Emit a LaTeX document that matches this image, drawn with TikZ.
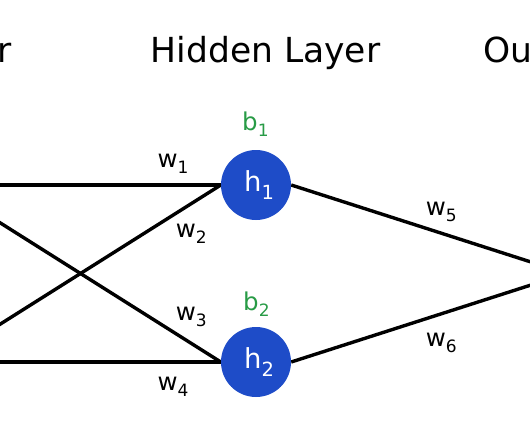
\documentclass[tikz,border=0pt]{standalone}
\usepackage{fontspec}
\setmainfont{DejaVu Sans}
\usetikzlibrary{backgrounds}
\definecolor{nodeblue}{RGB}{30,76,200}
\definecolor{biasgreen}{RGB}{40,155,70}
\newcommand\lsub[1]{\raisebox{-6pt}{\fontsize{17pt}{17pt}\selectfont #1}}
\newcommand\hsub[1]{\raisebox{-7.5pt}{\fontsize{19.5pt}{19.5pt}\selectfont #1}}
\tikzset{
  neuron/.style={circle, fill=nodeblue, minimum size=70pt, inner sep=0pt,
    text=white, font=\fontsize{27.5pt}{28pt}\selectfont},
  ghost/.style={circle, minimum size=70pt, inner sep=0pt},
  conn/.style={line width=3.4pt, black},
  wlabel/.style={anchor=base west, inner sep=0pt, font=\fontsize{24.5pt}{26pt}\selectfont},
  blabel/.style={anchor=base west, inner sep=0pt, text=biasgreen, font=\fontsize{24.5pt}{26pt}\selectfont},
  title/.style={inner sep=0pt, font=\fontsize{34.5pt}{36pt}\selectfont}
}
\begin{document}
\begin{tikzpicture}[x=1pt,y=-1pt]
\useasboundingbox (0,0) rectangle (530,442);
\clip (0,0) rectangle (530,442);
% titles
\node[title, anchor=base east] (tin) at (11.5,62) {Input Layer};
\node[title, anchor=base] (thid) at (265.5,62) {Hidden Layer};
\node[title, anchor=base west] (tout) at (483,62) {Output Layer};
% neurons
\node[ghost] (x1) at (-95,185) {};
\node[ghost] (x2) at (-95,362) {};
\node[neuron] (h1) at (256,185) {\kern6pt h\hsub{1}};
\node[neuron] (h2) at (256,362) {\kern6pt h\hsub{2}};
\node[ghost] (o) at (602,273.5) {};
% connectors
\begin{pgfonlayer}{background}
\draw[conn] (x1.east) -- (h1.west);
\draw[conn] (x1.east) -- (h2.west);
\draw[conn] (x2.east) -- (h1.west);
\draw[conn] (x2.east) -- (h2.west);
\draw[conn] (h1.east) -- (o.west);
\draw[conn] (h2.east) -- (o.west);
\end{pgfonlayer}
% weight labels
\node[wlabel] (w1) at (157.3,167) {w\lsub{1}};
\node[wlabel] (w2) at (175.7,237) {w\lsub{2}};
\node[wlabel] (w3) at (175.7,320) {w\lsub{3}};
\node[wlabel] (w4) at (157.3,390) {w\lsub{4}};
\node[wlabel] (w5) at (425.7,215) {w\lsub{5}};
\node[wlabel] (w6) at (425.7,346.7) {w\lsub{6}};
% bias labels
\node[blabel] (b1) at (242,130.5) {b\lsub{1}};
\node[blabel] (b2) at (243,310) {b\lsub{2}};
\end{tikzpicture}
\end{document}
